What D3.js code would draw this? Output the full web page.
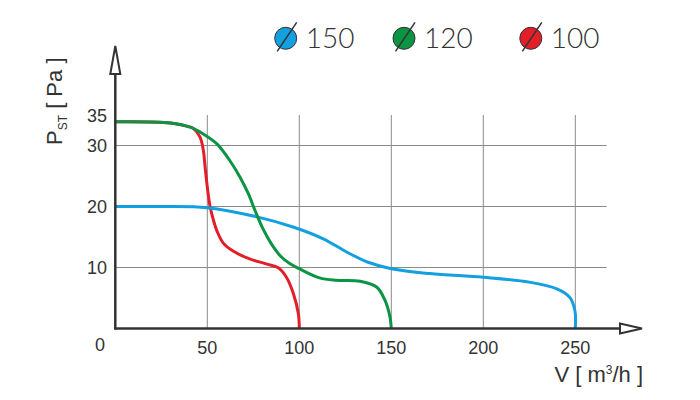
<!DOCTYPE html>
<html>
<head>
<meta charset="utf-8">
<script src="https://cdn.jsdelivr.net/npm/d3@7"></script>
<style>
  body { margin: 0; background: #fff; }
  svg { display: block; }
</style>
</head>
<body>
<div id="chart"></div>
<script>
// pressure curves
const flow150 = [0, 25, 50, 77, 97, 113, 126, 137, 150, 171, 200, 225, 240, 247, 249.8, 250];
const pres150 = [20, 20, 19.8, 18.3, 16.6, 14.7, 12.5, 10.9, 9.8, 9.0, 8.4, 7.6, 6.5, 5.1, 2.9, 0];

const flow120 = [0, 30, 40.6, 47.8, 55.1, 62.3, 67.8, 72.3, 76, 80, 85, 90, 95, 100, 111, 120, 133, 142, 146.6, 149.3, 150];
const pres120 = [33.9, 33.7, 33, 31.9, 30.3, 27.5, 24.8, 22.1, 19.3, 16.5, 13.8, 11.8, 10.6, 9.8, 8.3, 7.9, 7.75, 6.8, 4.6, 1.85, 0];

const flow100 = [0, 30, 40, 42.4, 46, 47.8, 48.8, 50, 51.5, 53.3, 55.5, 58.7, 64, 73, 82, 88.6, 93, 96.8, 99.5, 100];
const pres100 = [33.9, 33.7, 33.1, 32.8, 31.4, 29.3, 26.5, 23.2, 20, 17.8, 15.8, 14, 12.7, 11.4, 10.6, 9.95, 8.4, 5.7, 2.4, 0];

const legendNames = ["150", "120", "100"];
const xTicks = [50, 100, 150, 200, 250];
const yTicks = [10, 20, 30, 35];
const yGrid = [10, 20, 30];

const colors = { "150": "#139fe0", "120": "#0b9444", "100": "#e21e28" };

const width = 700, height = 400;

const svg = d3.select("#chart").append("svg")
    .attr("width", width)
    .attr("height", height);

const x = d3.scaleLinear().domain([0, 250]).range([115.3, 575.3]);
const y = d3.scaleLinear().domain([0, 35]).range([328.5, 115]);

const tickFont = "'Liberation Sans', Arial, sans-serif";

// grid
svg.append("g").selectAll("line").data(xTicks).enter()
    .append("line")
    .attr("x1", d => x(d)).attr("x2", d => x(d))
    .attr("y1", y(0)).attr("y2", y(35))
    .attr("stroke", "#8a8a8a").attr("stroke-width", 1);

svg.append("g").selectAll("line").data(yGrid).enter()
    .append("line")
    .attr("x1", x(0)).attr("x2", x(267))
    .attr("y1", d => y(d)).attr("y2", d => y(d))
    .attr("stroke", "#8a8a8a").attr("stroke-width", 1);

// curves
const line = d3.line()
    .x(d => x(d[0]))
    .y(d => y(d[1]))
    .curve(d3.curveCatmullRom.alpha(0.5));

const series = [
    { name: "100", data: d3.zip(flow100, pres100) },
    { name: "150", data: d3.zip(flow150, pres150) },
    { name: "120", data: d3.zip(flow120, pres120) }
];

svg.append("g").selectAll("path").data(series).enter()
    .append("path")
    .attr("d", d => line(d.data))
    .attr("fill", "none")
    .attr("stroke", d => colors[d.name])
    .attr("stroke-width", 3);

// axes with open arrows
const axisCol = "#333";
svg.append("line")
    .attr("x1", x(0)).attr("x2", x(0))
    .attr("y1", y(0) + 1).attr("y2", 52)
    .attr("stroke", axisCol).attr("stroke-width", 2.5);
svg.append("path")
    .attr("d", `M${x(0)},46 L${x(0) - 5},74 L${x(0) + 5},74 Z`)
    .attr("fill", "#fff").attr("stroke", axisCol).attr("stroke-width", 2);

svg.append("line")
    .attr("x1", x(0) - 1).attr("x2", 636)
    .attr("y1", y(0)).attr("y2", y(0))
    .attr("stroke", axisCol).attr("stroke-width", 2.5);
svg.append("path")
    .attr("d", `M642,${y(0)} L620,${y(0) - 5} L620,${y(0) + 5} Z`)
    .attr("fill", "#fff").attr("stroke", axisCol).attr("stroke-width", 2);

// tick labels
svg.append("g").selectAll("text").data(xTicks).enter()
    .append("text")
    .attr("x", d => x(d))
    .attr("y", 354)
    .attr("text-anchor", "middle")
    .style("font-family", tickFont)
    .style("font-size", "18px")
    .style("fill", "#333")
    .text(d => d);

svg.append("text")
    .attr("x", 100).attr("y", 351)
    .attr("text-anchor", "middle")
    .style("font-family", tickFont)
    .style("font-size", "18px")
    .style("fill", "#333")
    .text("0");

svg.append("g").selectAll("text").data(yTicks).enter()
    .append("text")
    .attr("x", 107)
    .attr("y", d => y(d) + 6.5)
    .attr("text-anchor", "end")
    .style("font-family", tickFont)
    .style("font-size", "18px")
    .style("fill", "#333")
    .text(d => d);

// axis titles
const xt = svg.append("text")
    .attr("x", 643).attr("y", 382)
    .attr("text-anchor", "end")
    .style("font-family", tickFont)
    .style("font-size", "22px")
    .style("fill", "#333");
xt.append("tspan").text("V [ m");
xt.append("tspan").attr("dy", -8).style("font-size", "12px").text("3");
xt.append("tspan").attr("dy", 8).text("/h ]");

const yt = svg.append("text")
    .attr("transform", "translate(62,145) rotate(-90)")
    .attr("text-anchor", "start")
    .style("font-family", tickFont)
    .style("font-size", "22px")
    .style("fill", "#333");
yt.append("tspan").text("P");
yt.append("tspan").attr("dy", 5).style("font-size", "12px").text("ST");
yt.append("tspan").attr("dy", -5).text(" [ Pa ]");

// legend
const legX = [285.7, 404, 530.8];
const leg = svg.append("g").selectAll("g").data(legendNames).enter()
    .append("g")
    .attr("transform", (d, i) => `translate(${legX[i]},38.3)`);

leg.append("circle")
    .attr("r", 11)
    .attr("fill", d => colors[d])
    .attr("stroke", "#333").attr("stroke-width", 1);

leg.append("line")
    .attr("x1", -8.5).attr("y1", 13)
    .attr("x2", 11).attr("y2", -16)
    .attr("stroke", "#333").attr("stroke-width", 1.5);

leg.append("text")
    .attr("x", 20)
    .attr("y", 10)
    .style("font-family", "Lato, 'Noto Sans', sans-serif")
    .style("font-weight", 300)
    .style("font-size", "28px")
    .style("fill", "#333")
    .text(d => d);
</script>
</body>
</html>
